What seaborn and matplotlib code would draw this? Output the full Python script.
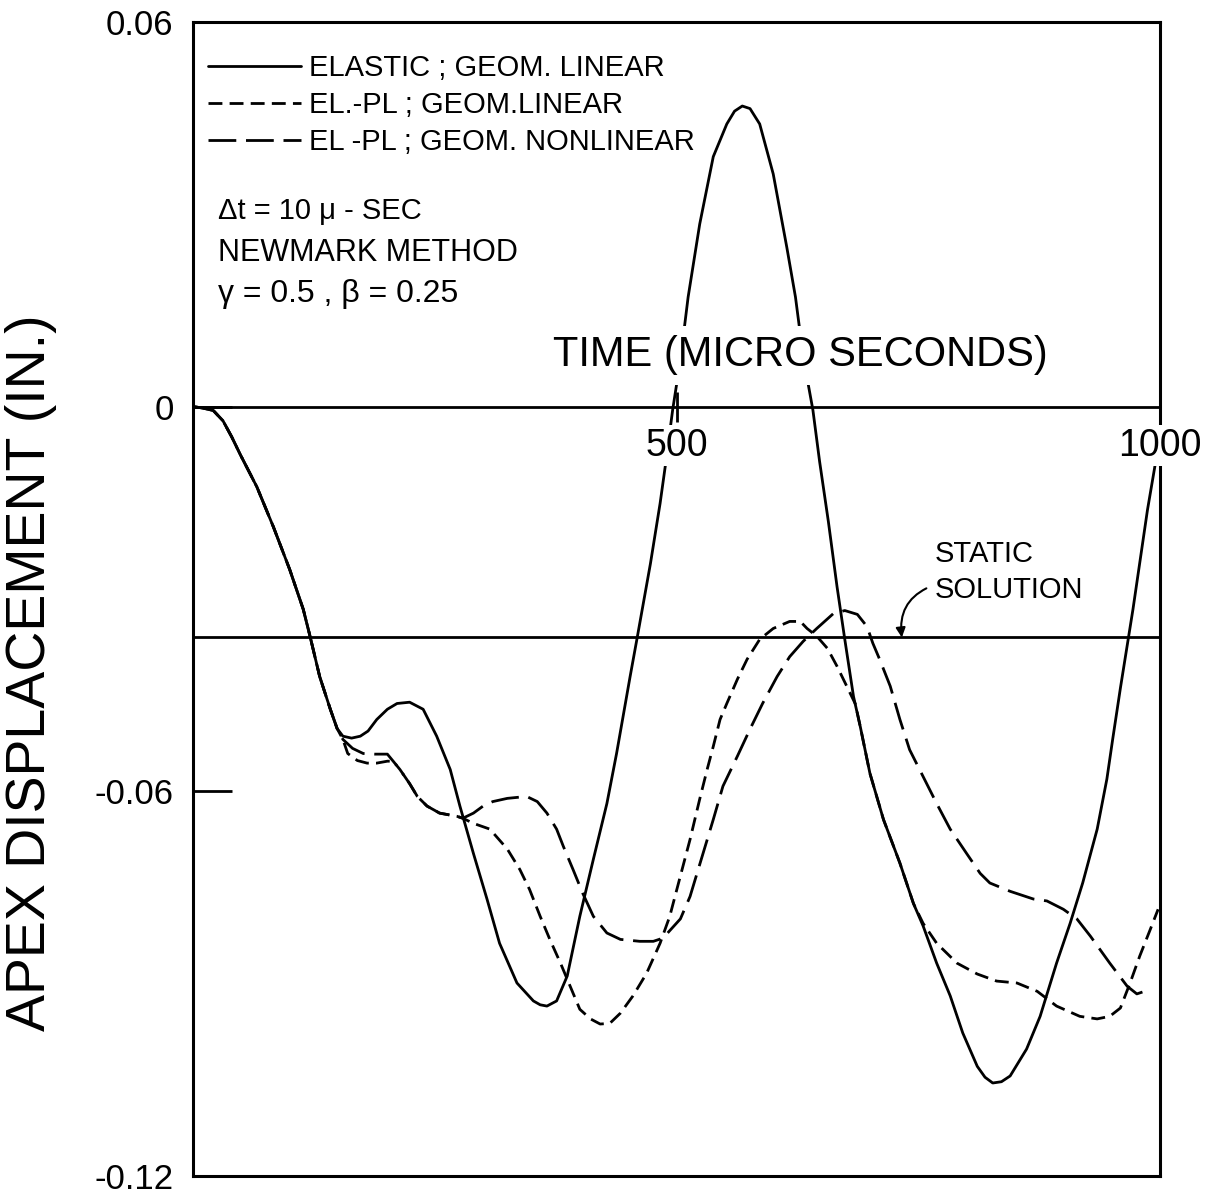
import numpy as np
import pandas as pd
import matplotlib
matplotlib.use("Agg")
import matplotlib.pyplot as plt
import seaborn as sns

# apex displacement (in.) vs time (micro seconds)
t_elastic = [0, 10, 21, 31, 40, 49, 66, 83, 100, 114, 121, 131, 142, 149, 155, 164, 173, 181,
             190, 201, 211, 224, 238, 252, 266, 276, 290, 304, 317, 335, 352, 359, 366, 376, 387,
             400, 414, 428, 438, 452, 459, 473, 483, 489, 496, 504, 512, 524, 538, 552, 560, 568,
             576, 586, 600, 614, 623, 631, 641, 648, 657, 666, 674, 683, 690, 700, 714, 731, 745,
             755, 769, 783, 796, 811, 819, 827, 836, 845, 862, 876, 893, 907, 920, 935, 945, 951,
             959, 972, 987, 995, 1000]
v_elastic = [0, -0.0002, -0.0006, -0.0022, -0.0047, -0.0075, -0.0125, -0.0187, -0.0254, -0.0316,
             -0.0358, -0.0421, -0.0472, -0.0502, -0.0514, -0.0517, -0.0514, -0.0506, -0.0488,
             -0.0472, -0.0463, -0.0461, -0.0472, -0.0514, -0.0566, -0.0623, -0.0697, -0.0768,
             -0.0837, -0.0899, -0.0927, -0.0933, -0.0935, -0.0927, -0.0888, -0.0795, -0.0706,
             -0.0619, -0.0541, -0.0421, -0.0363, -0.0245, -0.0151, -0.0086, -0.0005, 0.0073,
             0.0171, 0.0285, 0.0390, 0.0441, 0.0461, 0.0469, 0.0465, 0.0441, 0.0363, 0.0249,
             0.0171, 0.0078, -0.0005, -0.0086, -0.0179, -0.0281, -0.0363, -0.0452, -0.0499,
             -0.0572, -0.0644, -0.0712, -0.0775, -0.0810, -0.0868, -0.0919, -0.0977, -0.1029,
             -0.1046, -0.1055, -0.1053, -0.1044, -0.1002, -0.0951, -0.0868, -0.0806, -0.0743,
             -0.0659, -0.0581, -0.0519, -0.0439, -0.0316, -0.0161, -0.0090, -0.0047]

t_elpl_lin = [0, 10, 21, 31, 40, 49, 66, 83, 100, 114, 121, 131, 142, 149, 155, 160, 170, 180,
              190, 201, 207, 214, 224, 232, 242, 255, 273, 279, 290, 307, 325, 338, 348, 359,
              369, 380, 390, 400, 411, 421, 431, 442, 455, 469, 483, 493, 504, 514, 524, 532,
              538, 545, 552, 563, 573, 586, 600, 617, 628, 635, 645, 656, 666, 676, 685, 690,
              700, 714, 731, 745, 755, 769, 790, 811, 831, 852, 873, 893, 917, 935, 948, 959,
              969, 979, 990, 998]
v_elpl_lin = [0, -0.0002, -0.0006, -0.0022, -0.0047, -0.0075, -0.0125, -0.0187, -0.0254, -0.0316,
              -0.0358, -0.0421, -0.0472, -0.0502, -0.0519, -0.0541, -0.0552, -0.0556, -0.0556,
              -0.0553, -0.0553, -0.0566, -0.0588, -0.0608, -0.0623, -0.0634, -0.0639, -0.0642,
              -0.0650, -0.0659, -0.0690, -0.0722, -0.0753, -0.0795, -0.0831, -0.0868, -0.0904,
              -0.0940, -0.0955, -0.0963, -0.0962, -0.0946, -0.0919, -0.0884, -0.0837, -0.0795,
              -0.0732, -0.0675, -0.0612, -0.0564, -0.0530, -0.0488, -0.0463, -0.0425, -0.0394,
              -0.0363, -0.0346, -0.0335, -0.0335, -0.0346, -0.0358, -0.0377, -0.0405, -0.0436,
              -0.0464, -0.0499, -0.0572, -0.0644, -0.0712, -0.0775, -0.0806, -0.0837, -0.0868,
              -0.0885, -0.0896, -0.0899, -0.0912, -0.0935, -0.0951, -0.0955, -0.0951, -0.0938,
              -0.0899, -0.0857, -0.0815, -0.0784]

t_elpl_nonlin = [0, 10, 21, 31, 40, 49, 66, 83, 100, 114, 121, 131, 142, 149, 155, 165, 176, 188,
                 201, 207, 214, 224, 232, 242, 255, 273, 279, 290, 300, 310, 325, 345, 356, 366,
                 376, 383, 393, 403, 414, 428, 442, 462, 476, 486, 504, 514, 524, 538, 548, 563,
                 576, 589, 604, 617, 631, 645, 662, 674, 687, 697, 703, 710, 721, 731, 741, 755,
                 769, 783, 800, 814, 824, 845, 869, 883, 900, 914, 928, 948, 966, 976, 990]
v_elpl_nonlin = [0, -0.0002, -0.0006, -0.0022, -0.0047, -0.0075, -0.0125, -0.0187, -0.0254,
                 -0.0316, -0.0358, -0.0421, -0.0472, -0.0502, -0.0519, -0.0533, -0.0541, -0.0542,
                 -0.0542, -0.0553, -0.0566, -0.0588, -0.0608, -0.0623, -0.0634, -0.0639, -0.0642,
                 -0.0634, -0.0623, -0.0616, -0.0611, -0.0608, -0.0616, -0.0634, -0.0659, -0.0686,
                 -0.0722, -0.0759, -0.0795, -0.0821, -0.0831, -0.0834, -0.0834, -0.0829, -0.0799,
                 -0.0764, -0.0714, -0.0644, -0.0592, -0.0545, -0.0503, -0.0463, -0.0421, -0.0390,
                 -0.0366, -0.0346, -0.0323, -0.0318, -0.0324, -0.0343, -0.0369, -0.0394, -0.0436,
                 -0.0488, -0.0535, -0.0577, -0.0619, -0.0659, -0.0697, -0.0728, -0.0743, -0.0756,
                 -0.0768, -0.0771, -0.0784, -0.0799, -0.0826, -0.0868, -0.0904, -0.0916, -0.0909]

static_disp = -0.036

cases = ["ELASTIC ; GEOM. LINEAR", "EL.-PL ; GEOM.LINEAR", "EL -PL ; GEOM. NONLINEAR"]
y_ticks = [0.06, 0, -0.06, -0.12]
y_ticklabels = ["0.06", "0", "-0.06", "-0.12"]
x_ticks = [500, 1000]

df = pd.concat([
    pd.DataFrame({"time": t_elastic, "disp": v_elastic, "case": cases[0]}),
    pd.DataFrame({"time": t_elpl_lin, "disp": v_elpl_lin, "case": cases[1]}),
    pd.DataFrame({"time": t_elpl_nonlin, "disp": v_elpl_nonlin, "case": cases[2]}),
], ignore_index=True)

sns.set_theme(style="white")
plt.rcParams["font.family"] = ["Liberation Sans", "DejaVu Sans"]
plt.rcParams["text.color"] = "black"
plt.rcParams["axes.labelcolor"] = "black"

fig = plt.figure(figsize=(12.07, 11.98), dpi=100)
fig.patch.set_facecolor("white")
ax = fig.add_axes([0.1599, 0.0184, 0.8012, 0.9632])

sns.lineplot(data=df, x="time", y="disp", style="case", style_order=cases,
             dashes={cases[0]: "", cases[1]: (5, 2.6), cases[2]: (10, 3.5)},
             color="black", linewidth=2.0, estimator=None, sort=False, ax=ax)

ax.axhline(static_disp, color="black", lw=2, zorder=1.9)

ax.set_xlim(0, 1000)
ax.set_ylim(-0.12, 0.06)
ax.set_xticks([])
ax.set_xlabel("")
ax.set_yticks(y_ticks, labels=y_ticklabels)
ax.tick_params(axis="y", direction="in", length=28, width=2, labelsize=25, pad=14,
               color="black", labelcolor="black", left=True)
ax.set_ylabel("APEX DISPLACEMENT (IN.)", fontsize=40, color="black")
ax.yaxis.set_label_coords(-0.141, 0.436)
for s in ax.spines.values():
    s.set_linewidth(2.2)
    s.set_color("black")

# time axis drawn along the zero line
secax = ax.secondary_xaxis((0 - (-0.12)) / 0.18)
secax.set_alignment("bottom")
secax.set_xticks(x_ticks, labels=[str(x) for x in x_ticks])
secax.tick_params(direction="inout", length=22, width=2, labelsize=27, pad=4,
                  color="black", labelcolor="black")
secax.spines["bottom"].set_linewidth(2)
secax.spines["bottom"].set_color("black")
for lab in secax.get_xticklabels():
    lab.set_bbox(dict(facecolor="white", edgecolor="none", pad=2))
secax.set_zorder(2.6)

ax.text(628, 0.0080, "TIME (MICRO SECONDS)", ha="center", va="center", fontsize=30,
        zorder=3, bbox=dict(facecolor="white", edgecolor="none", pad=7))

ax.text(26, 0.0306, "\u0394t = 10 \u03bc - SEC", ha="left", va="center", fontsize=21)
ax.text(26, 0.0240, "NEWMARK METHOD", ha="left", va="center", fontsize=22)
ax.text(26, 0.0175, "\u03b3 = 0.5 , \u03b2 = 0.25", ha="left", va="center", fontsize=23)

ax.annotate("STATIC\nSOLUTION", xy=(733, static_disp), xytext=(767, -0.0258),
            ha="left", va="center", fontsize=21, linespacing=1.35,
            arrowprops=dict(arrowstyle="-|>", color="black", lw=1.5, mutation_scale=14,
                            connectionstyle="arc3,rad=0.4", relpos=(0, 0.3),
                            shrinkA=4, shrinkB=0))

handles, labels = ax.get_legend_handles_labels()
ax.legend(handles, labels, loc="upper left", bbox_to_anchor=(0.0155, 0.972),
          frameon=False, fontsize=21, handlelength=3.2, handletextpad=0.25,
          labelspacing=0.3, borderpad=0, borderaxespad=0)

fig.savefig("out.png", dpi=100)
plt.close(fig)
